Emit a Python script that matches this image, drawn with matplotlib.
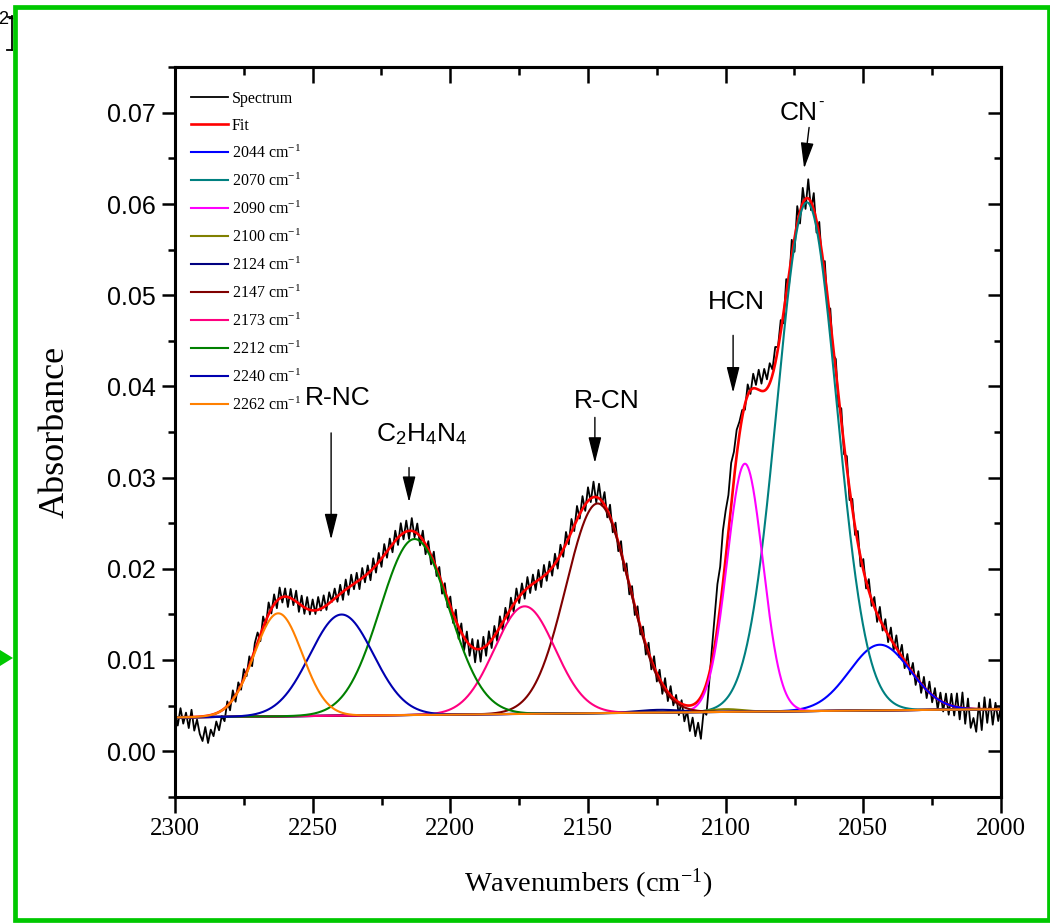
import numpy as np
import matplotlib
matplotlib.use("Agg")
import matplotlib.pyplot as plt
from matplotlib import font_manager as fm
from matplotlib.ticker import MultipleLocator, FormatStrFormatter, NullFormatter
from matplotlib.patches import Rectangle, Polygon
from matplotlib.lines import Line2D

# ---------------------------------------------------------------- fonts
_names = {f.name for f in fm.fontManager.ttflist}
SERIF = "Liberation Serif"
if "Liberation Sans Narrow" in _names:
    SANS, SANS_K = "Liberation Sans Narrow", 1.15
else:
    SANS, SANS_K = "Liberation Sans", 1.0
plt.rcParams["font.family"] = SERIF
plt.rcParams["mathtext.fontset"] = "custom"
plt.rcParams["mathtext.rm"] = SERIF
plt.rcParams["mathtext.it"] = SERIF + ":italic"
plt.rcParams["mathtext.sf"] = SANS

# ---------------------------------------------------------------- data
# Gaussian components of the fit: centre (cm-1), height above baseline, sigma (cm-1)
comp_labels = ["2044", "2070", "2090", "2100", "2124", "2147", "2173", "2212", "2240", "2262"]
comp_centers = [2044.0, 2070.5, 2093.0, 2100.0, 2124.0, 2146.5, 2173.0, 2213.0, 2239.5, 2262.5]
comp_heights = [0.0072, 0.0558, 0.0272, 0.0003, 0.0003, 0.0230, 0.0118, 0.0193, 0.0111, 0.0113]
comp_sigmas = [11.0, 10.8, 6.5, 6.0, 8.0, 11.5, 11.0, 12.5, 11.5, 8.7]
comp_colors = ["#0000FF", "#008080", "#FF00FF", "#808000", "#000080",
               "#800000", "#FF0080", "#008000", "#0000B0", "#FF8000"]

# linear baseline under all components (value at 2300 and at 2000 cm-1)
baseline_2300 = 0.0037
baseline_2000 = 0.0046

# measured spectrum minus fit, 1 cm-1 steps from 2300 down to 2000, units of 1e-4
residual_e4 = [
    6, -9, 10, -7, 5, -12, 8, -15, -3, -19,
    -27, -12, -30, -16, -24, -9, -20, -6, -14, 5,
    -8, 10, -7, 9, -5, 11, -4, 10, -9, 8,
    11, -7, 12, -6, 13, -5, 11, -8, 12, -6,
    9, -11, 10, -6, 12, -9, 11, -7, 13, -5,
    12, -4, 14, -2, 13, -5, 12, -1, 11, -6,
    10, -9, 11, -8, 12, -6, 10, -10, 11, -7,
    9, -10, 11, -8, 10, -9, 12, -7, 10, -9,
    11, -8, 13, -7, 12, -9, 14, -6, 11, -10,
    10, -11, 9, -10, 11, -8, 10, -11, 9, -9,
    11, -10, 12, -13, 10, -14, 11, -12, 9, -15,
    10, -14, 12, -11, 13, -9, 11, -10, 12, -8,
    11, -9, 12, -8, 13, -7, 11, -9, 12, -8,
    10, -9, 11, -10, 12, -8, 10, -9, 11, -10,
    11, -8, 13, -7, 14, -6, 15, -5, 14, -7,
    15, -4, 17, -6, 16, -5, 14, -8, 13, -9,
    11, -10, 12, -9, 11, -11, 10, -10, 11, -9,
    10, -11, 11, -10, 12, -9, 10, -11, 11, -10,
    10, -8, 6, -14, 4, -18, -6, -28, -14, -36,
    -24, -46, -22, -34, -10, 14, 32, 48, 44, 58,
    52, 40, 46, 30, 28, 14, 8, -6, 12, -4,
    16, 4, 22, 8, 24, 10, 22, 6, 18, 2,
    13, -11, 16, -13, 17, -15, 19, -13, 17, -11,
    21, -9, 18, -13, 15, -11, 14, -12, 13, -10,
    13, -11, 14, -10, 13, -12, 11, -9, 13, -10,
    12, -8, 13, -7, 11, -9, 14, -6, 12, -8,
    13, -7, 14, -5, 13, -8, 12, -6, 11, -9,
    10, -10, 11, -9, 12, -8, 10, -11, 9, -10,
    11, -11, 13, -10, 15, -13, 17, -17, 11, -21,
    -10, -25, 7, -23, 13, -15, 11, -17, 7, -13,
    4,
]

x_ticks = [2300, 2250, 2200, 2150, 2100, 2050, 2000]

# peak assignments: text, text position (baseline), arrow tail, arrow tip
note_texts = ["R-NC", r"C$_{\mathsf{2}}$H$_{\mathsf{4}}$N$_{\mathsf{4}}$", "R-CN", "HCN", "CN"]
note_xy = [(2240.8, 0.0380), (2210.5, 0.0340), (2143.1, 0.0376), (2096.2, 0.0485), (2073.4, 0.0692)]
arrow_tail = [(2243.3, 0.0349), (2215.0, 0.0311), (2147.5, 0.0366), (2097.3, 0.0456), (2069.7, 0.0684)]
arrow_tip = [(2243.3, 0.0232), (2215.0, 0.0273), (2147.5, 0.0316), (2097.3, 0.0393), (2071.5, 0.0639)]


# ---------------------------------------------------------------- model
def baseline(w):
    return baseline_2300 + (2300.0 - w) / 300.0 * (baseline_2000 - baseline_2300)


def gaussian(w, c, h, s):
    return h * np.exp(-0.5 * ((w - c) / s) ** 2)


def fit_curve(w):
    y = baseline(w)
    for c, h, s in zip(comp_centers, comp_heights, comp_sigmas):
        y = y + gaussian(w, c, h, s)
    return y


w_fine = np.linspace(2300, 2000, 1501)
w_spec = np.arange(2300, 1999, -1).astype(float)
spectrum = fit_curve(w_spec) + np.array(residual_e4) * 1e-4

# ---------------------------------------------------------------- figure
W, H = 1050, 923
fig = plt.figure(figsize=(W / 100, H / 100), dpi=100)
fig.patch.set_facecolor("white")
ax = fig.add_axes([175 / W, 1 - 796.7 / H, 826 / W, 729.4 / H])

handles = []
handles += ax.plot(w_spec, spectrum, color="black", lw=1.3, label="Spectrum")
handles += ax.plot(w_fine, fit_curve(w_fine), color="#FF0000", lw=1.9, label="Fit")
for lab, c, h, s, col in zip(comp_labels, comp_centers, comp_heights, comp_sigmas, comp_colors):
    handles += ax.plot(w_fine, baseline(w_fine) + gaussian(w_fine, c, h, s), color=col,
                       lw=1.5, label=lab + r" cm$^{\mathregular{-1}}$")

ax.set_xlim(2300, 2000)
ax.set_ylim(-0.005, 0.075)

# axes frame and ticks (outward on bottom/left, inward on top/right)
for sp in ax.spines.values():
    sp.set_linewidth(2.2)
ax.xaxis.set_major_locator(MultipleLocator(50))
ax.xaxis.set_minor_locator(MultipleLocator(25))
ax.yaxis.set_major_locator(MultipleLocator(0.01))
ax.yaxis.set_minor_locator(MultipleLocator(0.005))
ax.yaxis.set_major_formatter(FormatStrFormatter("%.2f"))
ax.set_xticks(x_ticks)
ax.tick_params(axis="x", which="major", direction="out", length=11.5, width=1.8,
               labelsize=18, pad=4, labelfontfamily=SERIF)
ax.tick_params(axis="x", which="minor", direction="out", length=6, width=1.8)
ax.tick_params(axis="y", which="major", direction="out", length=9.5, width=1.8,
               labelsize=18 * SANS_K, pad=4, labelfontfamily=SANS)
ax.tick_params(axis="y", which="minor", direction="out", length=5, width=1.8)

top = ax.secondary_xaxis("top")
top.xaxis.set_major_locator(MultipleLocator(50))
top.xaxis.set_minor_locator(MultipleLocator(25))
top.xaxis.set_major_formatter(NullFormatter())
top.tick_params(which="major", direction="in", length=11.5, width=1.8)
top.tick_params(which="minor", direction="in", length=6, width=1.8)
top.spines["top"].set_linewidth(2.2)

right = ax.secondary_yaxis("right")
right.yaxis.set_major_locator(MultipleLocator(0.01))
right.yaxis.set_minor_locator(MultipleLocator(0.005))
right.yaxis.set_major_formatter(NullFormatter())
right.tick_params(which="major", direction="in", length=9.5, width=1.8)
right.tick_params(which="minor", direction="in", length=5, width=1.8)
right.spines["right"].set_linewidth(2.2)

ax.set_xlabel(r"Wavenumbers (cm$^{\mathregular{-1}}$)", fontsize=20.5, fontfamily=SERIF, va="center")
ax.xaxis.set_label_coords(0.5, -0.120)
ax.set_ylabel("Absorbance", fontsize=26, fontfamily=SERIF, va="center")
ax.yaxis.set_label_coords(-0.145, 0.5)

leg = ax.legend(handles=handles, loc="upper left", bbox_to_anchor=(0.0194, 0.9675),
                frameon=False, fontsize=11.5, handlelength=2.3, handletextpad=0.25,
                labelspacing=0.67, borderpad=0, borderaxespad=0)

# peak assignments
for txt, (tx, ty), tail, tip in zip(note_texts, note_xy, arrow_tail, arrow_tip):
    ax.text(tx, ty, txt, fontsize=19 * SANS_K, fontfamily=SANS, ha="center", va="baseline")
    ax.annotate("", xy=tip, xytext=tail,
                arrowprops=dict(arrowstyle="-|>,head_length=0.8,head_width=0.2",
                                color="black", lw=1.0, mutation_scale=20,
                                shrinkA=0, shrinkB=0))
# small charge sign on the cyanide label
ax.annotate("-", xy=note_xy[-1], xytext=(16, 13), textcoords="offset points",
            fontsize=12, fontfamily=SANS, ha="center", va="center")

# surrounding frame and margin marks
fig.add_artist(Rectangle((14.5 / W, 1 - 919.5 / H), 1034 / W, 912.5 / H,
                         transform=fig.transFigure, fill=False,
                         edgecolor="#00C800", lw=3.4))
fig.add_artist(Polygon([(0, 1 - 650 / H), (0, 1 - 666 / H), (13 / W, 1 - 658 / H)],
                       closed=True, transform=fig.transFigure,
                       facecolor="#00C800", edgecolor="none"))
fig.add_artist(Line2D([11.8 / W, 11.8 / W], [1 - 16 / H, 1 - 50 / H],
                      transform=fig.transFigure, color="black", lw=1.3))
fig.add_artist(Line2D([8 / W, 12 / W], [1 - 17 / H, 1 - 17 / H],
                      transform=fig.transFigure, color="black", lw=1.3))
fig.add_artist(Line2D([7 / W, 12 / W], [1 - 50 / H, 1 - 50 / H],
                      transform=fig.transFigure, color="black", lw=1.3))
fig.text(-2 / W, 1 - 20 / H, "2-", fontsize=13, fontfamily=SANS, ha="left", va="center")

fig.savefig("out.png", dpi=100)
